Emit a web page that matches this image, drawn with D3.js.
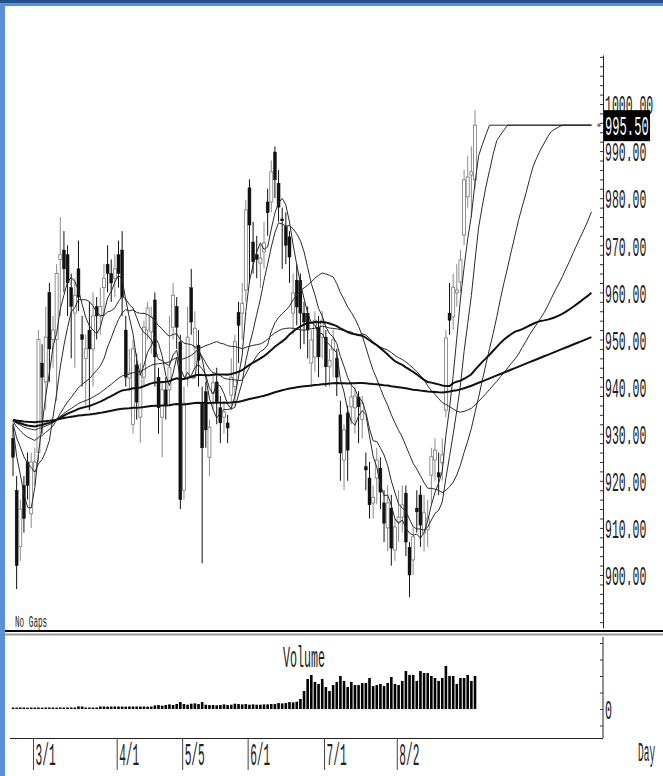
<!DOCTYPE html>
<html>
<head>
<meta charset="utf-8">
<script src="https://cdn.jsdelivr.net/npm/d3@7"></script>
<style>
  body { margin: 0; background: #fff; }
  svg { display: block; }
  .lbl { font-family: "Liberation Mono", monospace; fill: #222; }
</style>
</head>
<body>
<svg id="chart" width="663" height="776"></svg>
<script>
// daily candles (index 0 = first visible day)
const opens = [929,918,906,919,924,913,922,926,945,941, 960,950,950,967,969,968,961,955.6,965,951,
  946,952,948,957,955,961,966,964,963,968, 969,952,941.8,932,944.6,933.5,942,952,951.6,958.4,
  942,933.5,939.3,939.3,952.6,957,949.5,918,942,961, 948.4,948.8,936.5,938.9,925,938.6,941,935.5,933.5,932.3,
  938.2,940,955.8,955.6,960.5,982.2,970.7,968,966.2,968.6, 979.2,979.2,989.8,983.2,975.6,974,971.8,955.6,962.6,962.6,
  955.6,955.6,945,946.3,952.6,950.5,950.5,944.2,947.8,946, 934,924.4,934.4,935.7,935.5,937.8,933,923,920.6,915.3,
  920.6,922.7,915.3,910,914.2,905.3,911.3,912.3,917.4,905.9, 903.2,914.2,917,908.9,909.6,921.2,924.4,921.7,923.8,935,
  955.6,954.8,959.9,962.2,972.2,980.3,984.9,983.9];
const highs = [932,921,916,921,926,926,927,952,949,957, 962,955,966,976,973,970,964,963,971,955,
  951,958,960,959,961,966,970,967,968,971, 973,955,948,950,947,945,954,958,957,960,
  944,941,942,955,962,959,951,940,957,965, 956,952,940,941,933,943,944,938,937,934,
  946,951,958,962,979.6,984,975,972,970,975, 982,988,991,986,978,977,973,964,966,964,
  958,957,952,956,955,956,952,948,952,948, 937,932,936,941,940,939,938,926,924,919,
  927,925,918,919,917,912,918,919,919,907, 910,918,919,917,916,927,929,926,929,952,
  962,964,966,969,986,989,991,998.7];
const lows = [921,897,903,909,916,910,919,924,930,935, 941,944,937,955,960,955,946,944,956,940,
  936,935,940,950,951,955,960,958,959,961, 955,940,939,930,933,928,940,950,947,940,
  930,925,933,936,950,948,914,916,940,951, 944,940,902.5,927,921,935,932,928,930,928,
  935,936,945,950,958,962,964,963,961,965, 972,977,980,975,965,966,962,951,953,948,
  949,946,940,943,942,946,940,940,942,938, 920,918,920,932,930,928,929,918,912,912,
  915,914,907,905,902,903,907,909,904,895.3, 900,909,906,905,906,915,920,917,920,933.5,
  951,952,957,960,970,978,976,982];
const closes = [925,902,914,912,919,924,924,950,942,950.5, 948,952,964,968,965,962,957,959.4,959,950,
  948,948,955,955,957,963,964,962,965,964, 959,942,942.9,948,936.7,942.5,952.6,956.7,954.8,946.3,
  935.5,939.3,936,944,959.4,952.6,916,936.5,950.5,953.7, 952.4,945.6,927,930.8,931.4,940.8,936.7,932.3,934.6,931.2,
  942,949.5,953,957.7,977.5,974.3,966.5,967,967.3,970.5, 976.9,985.6,983.9,978.1,975.2,970,967.5,959.9,956.9,955.6,
  953.7,952,949.9,954.1,946.3,954.1,944.2,945.6,949.9,942, 925.9,930.8,926.5,937.8,938,935.7,936.5,922.3,914.9,916.5,
  924.4,917.6,911,915.3,905.7,910.2,912.3,914.9,907,900, 908.1,913.4,910.6,913.2,912.1,925.1,926.5,920.8,925.5,950.3,
  954.1,961.1,960.5,966.9,983.9,984.5,985.6,995.5];
const volumes = [0.9,0.8,0.9,0.9,0.8,0.9,0.9,0.9,0.8,0.9,0.9,0.9,0.8,0.9,0.9,0.9,0.9,0.9,
  1.6,1.5, 0.9,0.9,0.9,0.9,
  1.5,1.5,1.4,1.5,1.5,1.5,1.5,1.4,1.5,1.5,1.5,1.5,1.5,1.4,1.5,
  2.2,2.4,2.0,2.4, 2.8,2.4,3.0, 4.2, 3.0,2.6,3.2,3.4,3.0, 4.2,
  2.6,2.4,2.4,2.2,2.4,2.8,2.4,2.6, 3.2,3.0,2.8,3.0,
  2.6,2.8,2.6,2.6,2.8,2.8,3.0,3.0, 3.6,3.4,3.6, 4.2,4.0,4.4,
  6.1,10.9,18.2,20.6,16.4,15.2,18.2,13.3,10.9,14.5,16.4,20,17,13.3,16.4,14.5,14.5,15.8,15.8,18.8,
  13.9,14.5,15.2,13.9,15.8,19.4,15.2,14.5,17,23,20.6,20.6,17,23,21.8,21.8,20,18.8,17,18.8,
  26.1,20,20,15.2,18.8,18.8,20.6,17,20];

const tickDays = [6, 29, 47, 65, 86, 106];
const tickLabels = ["3/1", "4/1", "5/5", "6/1", "7/1", "8/2"];
const priceLabels = [900, 910, 920, 930, 940, 950, 960, 970, 980, 990, 1000];
const volumeTicks = [-10, 0, 10, 20, 30, 40];

const maThin = [5, 10, 25, 50];
const maThick = [75, 200];
const priorClose = 933;   // level of the closes before the first visible day
const projectDays = 32;   // averages run on past the last day at the last close

const svg = d3.select("#chart");
const last = closes.length - 1;

const x = d3.scaleLinear().domain([0, last]).range([13, 475]);
const step = x(1) - x(0);
const y = d3.scaleLinear().domain([888.75, 1010.4]).range([628, 55]);
const yv = d3.scaleLinear().domain([0, 40]).range([709, 643]);

// tall narrow lettering: mono font squeezed sideways
const squeeze = (sel, tx, ty, sx) =>
  sel.attr("x", 0).attr("y", 0).attr("transform", `translate(${tx},${ty}) scale(${sx},1)`);

// window frame
svg.append("rect").attr("x", 0).attr("y", 0).attr("width", 663).attr("height", 3).attr("fill", "#24508f");
svg.append("rect").attr("x", 0).attr("y", 3).attr("width", 663).attr("height", 3).attr("fill", "#5b8fd8");
svg.append("rect").attr("x", 0).attr("y", 3).attr("width", 5).attr("height", 773).attr("fill", "#5b8fd8");

// candles
const candles = svg.append("g");
closes.forEach((c, i) => {
  const o = opens[i], up = c >= o;
  candles.append("line")
      .attr("x1", x(i)).attr("x2", x(i))
      .attr("y1", y(highs[i])).attr("y2", y(lows[i]))
      .attr("stroke", up ? "#8a8a8a" : "#111")
      .attr("stroke-width", 1);
  const top = y(Math.max(o, c)), bot = y(Math.min(o, c));
  candles.append("rect")
      .attr("x", x(i) - 1.5).attr("y", top)
      .attr("width", 3).attr("height", Math.max(1, bot - top))
      .attr("fill", up ? "#fff" : "#111")
      .attr("stroke", up ? "#777" : "#111")
      .attr("stroke-width", up ? 0.8 : 0.4);
});

// moving averages
const pad = d3.max(maThick.concat(maThin)) - 1;
const ext = d3.range(pad).map(() => priorClose)
  .concat(closes, d3.range(projectDays).map(() => closes[last]));
const movingAverage = n => d3.range(last + 1 + projectDays).map(t => {
  const end = pad + t;
  return [t, d3.mean(ext.slice(end - n + 1, end + 1))];
});
const line = d3.line().x(d => x(d[0])).y(d => y(d[1]));

maThin.forEach(n => {
  svg.append("path").datum(movingAverage(n))
      .attr("d", line).attr("fill", "none")
      .attr("stroke", "#2a2a2a").attr("stroke-width", 1);
});
maThick.forEach(n => {
  svg.append("path").datum(movingAverage(n))
      .attr("d", line).attr("fill", "none")
      .attr("stroke", "#111").attr("stroke-width", 2);
});

// price axis on the right
const minor = svg.append("g").attr("transform", "translate(603,0)")
    .call(d3.axisRight(y).tickValues(d3.range(890, 1011, 2)).tickSize(-3).tickSizeOuter(0).tickFormat(""));
minor.select(".domain").attr("stroke", "#222");
minor.selectAll(".tick line").attr("stroke", "#333");

const major = svg.append("g").attr("transform", "translate(603,0)")
    .call(d3.axisRight(y).tickValues(priceLabels).tickSize(0).tickFormat(d3.format(".2f")));
major.select(".domain").remove();
major.selectAll("text")
    .attr("class", "lbl")
    .attr("font-size", 27)
    .attr("dy", "0.36em")
    .call(s => squeeze(s, 2, 0, 0.425));

// last price tag
const lastY = y(closes[last]);
svg.append("line").attr("x1", 597).attr("x2", 601).attr("y1", lastY).attr("y2", lastY).attr("stroke", "#444");
svg.append("line").attr("x1", 599).attr("x2", 599).attr("y1", lastY - 2).attr("y2", lastY + 2).attr("stroke", "#444");
svg.append("rect").attr("x", 604).attr("y", lastY - 15).attr("width", 46).attr("height", 31).attr("fill", "#000");
svg.append("text").attr("class", "lbl")
    .attr("dy", "0.36em").attr("font-size", 27).style("fill", "#fff")
    .text(d3.format(".2f")(closes[last]))
    .call(s => squeeze(s, 605, lastY, 0.45));

svg.append("text").attr("class", "lbl")
    .attr("font-size", 16)
    .text("No Gaps")
    .call(s => squeeze(s, 15, 627, 0.48));

// panel divider
svg.append("line").attr("x1", 5).attr("x2", 663).attr("y1", 631).attr("y2", 631).attr("stroke", "#000").attr("stroke-width", 2);
svg.append("line").attr("x1", 5).attr("x2", 663).attr("y1", 634.5).attr("y2", 634.5).attr("stroke", "#9a9a9a").attr("stroke-width", 2);

// volume
svg.append("g").selectAll("rect").data(volumes).enter().append("rect")
    .attr("x", (d, i) => x(i) - 1.3)
    .attr("y", d => yv(d))
    .attr("width", 2.6)
    .attr("height", d => yv(0) - yv(d))
    .attr("fill", "#000");

const vaxis = svg.append("g").attr("transform", "translate(603,0)")
    .call(d3.axisRight(yv).tickValues(volumeTicks).tickSize(-3).tickSizeOuter(0).tickFormat(""));
vaxis.select(".domain").attr("d", "M0,637V738").attr("stroke", "#222");
vaxis.selectAll(".tick line").attr("stroke", "#333");
svg.append("text").attr("class", "lbl")
    .attr("dy", "0.36em").attr("font-size", 27)
    .text("0")
    .call(s => squeeze(s, 605, yv(0), 0.43));

svg.append("text").attr("class", "lbl")
    .attr("font-size", 30)
    .text("Volume")
    .call(s => squeeze(s, 283, 667, 0.39));

// date axis
svg.append("line").attr("x1", 10).attr("x2", 603).attr("y1", 738.5).attr("y2", 738.5).attr("stroke", "#222");
const dates = svg.append("g").attr("transform", "translate(0,738)")
    .call(d3.axisBottom(d3.scaleLinear().domain(x.domain()).range(x.range().map(v => v - step / 2)))
      .tickValues(tickDays).tickSize(32).tickFormat((d, i) => tickLabels[i]));
dates.select(".domain").remove();
dates.selectAll(".tick line").attr("stroke", "#444");
dates.selectAll(".tick text")
    .attr("class", "lbl")
    .attr("font-size", 31)
    .attr("text-anchor", "start")
    .attr("dy", 0)
    .call(s => squeeze(s, 2, 27, 0.36));

svg.append("text").attr("class", "lbl")
    .attr("font-size", 28)
    .text("Day")
    .call(s => squeeze(s, 638, 761, 0.34));
</script>
</body>
</html>
